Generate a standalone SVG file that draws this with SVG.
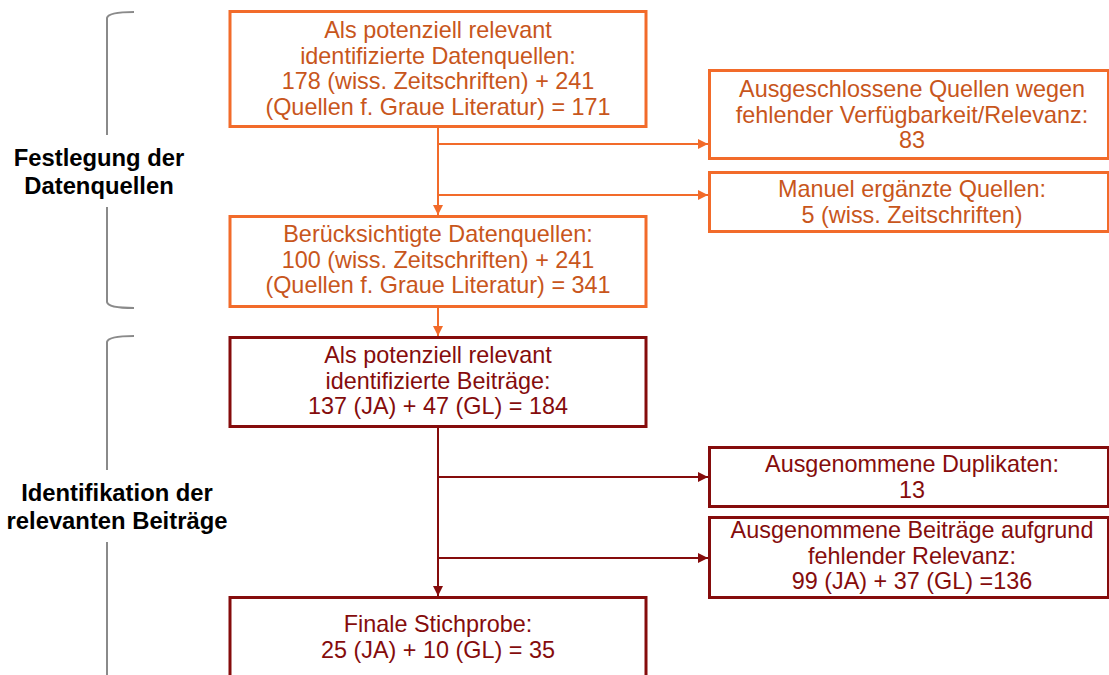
<svg xmlns="http://www.w3.org/2000/svg" width="1109" height="675" viewBox="0 0 1109 675">
<defs>
<style>
.t{font-family:"Liberation Sans",Arial,sans-serif;font-size:23.4px;text-anchor:middle}
.lab{font-family:"Liberation Sans",Arial,sans-serif;font-size:23.8px;font-weight:bold;text-anchor:middle;fill:#000}
.o{fill:#C8561C}
.r{fill:#850C0C}
.bo{fill:#fff;stroke:#F26B2A;stroke-width:3}
.br{fill:#fff;stroke:#850C0C;stroke-width:3}
.co{fill:none;stroke:#F26B2A;stroke-width:2}
.cr{fill:none;stroke:#850C0C;stroke-width:2}
.brk{fill:none;stroke:#8A8A8A;stroke-width:2}
</style>
<marker id="ao" markerWidth="10" markerHeight="10" refX="10" refY="5" orient="auto" markerUnits="userSpaceOnUse"><path d="M0,0 L10,5 L0,10 Z" fill="#F26B2A"/></marker>
<marker id="ar" markerWidth="10" markerHeight="10" refX="10" refY="5" orient="auto" markerUnits="userSpaceOnUse"><path d="M0,0 L10,5 L0,10 Z" fill="#850C0C"/></marker>
</defs>
<rect width="1109" height="675" fill="#fff"/>

<g id="brackets">
<path class="brk" d="M134,12 Q108,12 107,18 L107,135 M107,207 L107,302 Q108,308 134,308"/>
<path class="brk" d="M134,336 Q108,336 107,342 L107,470 M107,542 L107,675"/>
<text class="lab" x="99" y="166">Festlegung der</text>
<text class="lab" x="99" y="194">Datenquellen</text>
<text class="lab" x="117" y="501">Identifikation der</text>
<text class="lab" x="117" y="529">relevanten Beiträge</text>
</g>

<g id="connectors">
<path class="co" d="M438,127 L438,215" marker-end="url(#ao)"/>
<path class="co" d="M438,144 L708,144" marker-end="url(#ao)"/>
<path class="co" d="M438,195 L708,195" marker-end="url(#ao)"/>
<path class="co" d="M438,307 L438,336" marker-end="url(#ao)"/>
<path class="cr" d="M438,427 L438,596" marker-end="url(#ar)"/>
<path class="cr" d="M438,477 L708,477" marker-end="url(#ar)"/>
<path class="cr" d="M438,558 L708,558" marker-end="url(#ar)"/>
</g>

<g id="n1">
<rect class="bo" x="230" y="11.5" width="416" height="115"/>
<text class="t o" x="438" y="38">Als potenziell relevant</text>
<text class="t o" x="438" y="63.5">identifizierte Datenquellen:</text>
<text class="t o" x="438" y="89">178 (wiss. Zeitschriften) + 241</text>
<text class="t o" x="438" y="114.5">(Quellen f. Graue Literatur) = 171</text>
</g>

<g id="n2">
<rect class="bo" x="709.5" y="70.5" width="399" height="88"/>
<text class="t o" x="912" y="97">Ausgeschlossene Quellen wegen</text>
<text class="t o" x="912" y="122.5">fehlender Verfügbarkeit/Relevanz:</text>
<text class="t o" x="912" y="148">83</text>
</g>

<g id="n3">
<rect class="bo" x="709.5" y="172.5" width="399" height="59"/>
<text class="t o" x="912" y="197">Manuel ergänzte Quellen:</text>
<text class="t o" x="912" y="222.5">5 (wiss. Zeitschriften)</text>
</g>

<g id="n4">
<rect class="bo" x="230" y="216.5" width="416" height="90"/>
<text class="t o" x="438" y="242">Berücksichtigte Datenquellen:</text>
<text class="t o" x="438" y="267.5">100 (wiss. Zeitschriften) + 241</text>
<text class="t o" x="438" y="293">(Quellen f. Graue Literatur) = 341</text>
</g>

<g id="n5">
<rect class="br" x="230" y="337.5" width="416" height="89"/>
<text class="t r" x="438" y="363">Als potenziell relevant</text>
<text class="t r" x="438" y="388.5">identifizierte Beiträge:</text>
<text class="t r" x="438" y="414">137 (JA) + 47 (GL) = 184</text>
</g>

<g id="n6">
<rect class="br" x="709.5" y="447.5" width="399" height="59"/>
<text class="t r" x="912" y="472">Ausgenommene Duplikaten:</text>
<text class="t r" x="912" y="497.5">13</text>
</g>

<g id="n7">
<rect class="br" x="709.5" y="517.5" width="399" height="80"/>
<text class="t r" x="912" y="538">Ausgenommene Beiträge aufgrund</text>
<text class="t r" x="912" y="563.5">fehlender Relevanz:</text>
<text class="t r" x="912" y="589">99 (JA) + 37 (GL) =136</text>
</g>

<g id="n8">
<rect class="br" x="230" y="597.5" width="416" height="90"/>
<text class="t r" x="438" y="632">Finale Stichprobe:</text>
<text class="t r" x="438" y="657.5">25 (JA) + 10 (GL) = 35</text>
</g>
</svg>
